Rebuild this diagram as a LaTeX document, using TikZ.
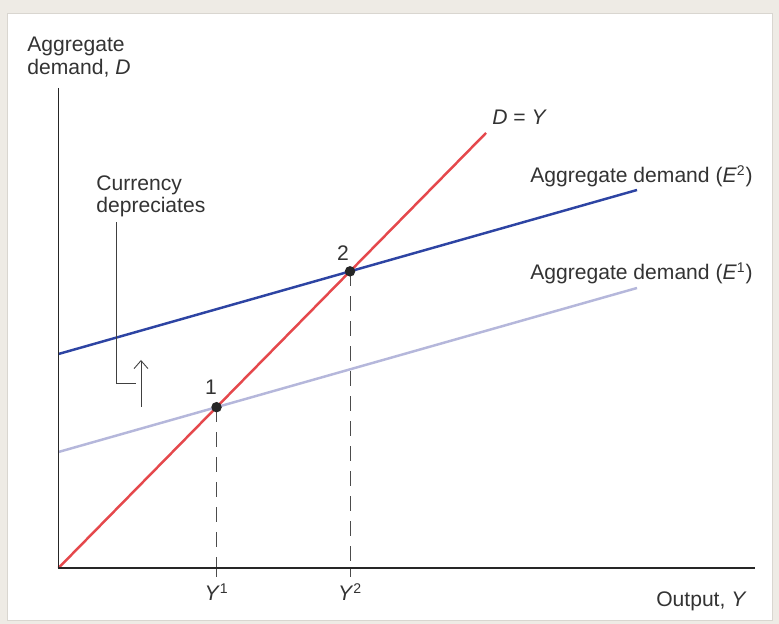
\documentclass[tikz,border=0pt]{standalone}
\usepackage{fontspec}
\setmainfont{Liberation Sans}
\usetikzlibrary{arrows.meta,positioning,calc,intersections}
\definecolor{paper}{HTML}{EEEBE5}
\definecolor{frame}{HTML}{D9D6D0}
\definecolor{ink}{HTML}{333333}
\definecolor{adred}{HTML}{E5484C}
\definecolor{adblue}{HTML}{2D44A3}
\definecolor{adlight}{HTML}{B5B7DB}

\begin{document}
\begin{tikzpicture}[x=1cm,y=1cm,
  lab/.style={font=\fontsize{12}{12.75}\selectfont,text=ink,inner sep=0pt},
  axis/.style={line width=1.1pt,color=black!85},
  curve/.style={line width=1.4pt},
  guide/.style={line width=0.6pt,color=black!70,dash pattern=on 0.3cm off 0.2cm},
  tick/.style={line width=0.6pt,color=black!70},
  dot/.style={circle,fill=black!85,inner sep=0pt,minimum size=0.21cm},
  lead/.style={line width=0.5pt,color=black!75},
  arr/.style={-{Straight Barb[length=1.6mm,width=2.8mm]},line width=0.5pt,color=black!75}]
\fill[paper] (0,0) rectangle (15.58,12.48);
\draw[frame,fill=white] (0.14,0.08) rectangle (15.44,12.22);
\useasboundingbox (0,0) rectangle (15.58,12.48);
% axes and schedules
\coordinate (O) at (1.17,1.12);
\coordinate (ytop) at (1.17,10.72);
\coordinate (xend) at (15.10,1.12);
\coordinate (redend) at (9.72,9.82);
\coordinate (e2a) at (1.17,5.40);
\coordinate (e2b) at (12.74,8.68);
\coordinate (e1a) at (1.17,3.44);
\coordinate (e1b) at (12.74,6.72);
\draw[curve,adlight,name path=low] (e1a) -- (e1b);
\draw[curve,adblue,name path=high] (e2a) -- (e2b);
\draw[curve,adred,name path=diag] (O) -- (redend);
\path[name intersections={of=diag and low,by=p1}];
\path[name intersections={of=diag and high,by=p2}];
\coordinate (t1) at (p1 |- O);
\coordinate (t2) at (p2 |- O);
\draw[guide] (p1) -- (t1);
\draw[guide] (p2) -- (t2);
\draw[tick] (t1) -- ++(0,-0.18);
\draw[tick] (t2) -- ++(0,-0.18);
\draw[axis] (ytop) -- (O) -- (xend);
\node[dot] (one) at (p1) {};
\node[dot] (two) at (p2) {};
\node[lab] (n1) at ($(one)+(-0.11,0.40)$) {1};
\node[lab] (n2) at ($(two)+(-0.14,0.36)$) {2};
% labels
\node[lab,anchor=north west,align=left] (ylab) at (0.54,11.74) {Aggregate\\demand, \textit{D}};
\node[lab,anchor=base west] (dy) at (9.84,9.98) {\textit{D} = \textit{Y}};
\node[lab,anchor=base west] (e2lab) at (10.60,8.82) {Aggregate demand (\textit{E}\textsuperscript{2})};
\node[lab,anchor=base west] (e1lab) at (10.60,6.88) {Aggregate demand (\textit{E}\textsuperscript{1})};
\node[lab,anchor=base] (y1) at (t1 |- 0,0.46) {\textit{Y}\textsuperscript{1}};
\node[lab,anchor=base] (y2) at (t2 |- 0,0.46) {\textit{Y}\textsuperscript{2}};
\node[lab,anchor=base east] (xlab) at (14.94,0.34) {Output, \textit{Y}};
% currency note
\node[lab,anchor=north west,align=left] (dep) at (1.92,8.98) {Currency\\depreciates};
\coordinate (leadend) at (2.72,4.82);
\draw[lead] ([xshift=0.4cm,yshift=-0.1cm]dep.south west) |- (leadend);
\coordinate (up0) at (2.82,4.34);
\coordinate (up1) at (2.82,5.28);
\draw[arr] (up0) -- (up1);
\end{tikzpicture}
\end{document}
